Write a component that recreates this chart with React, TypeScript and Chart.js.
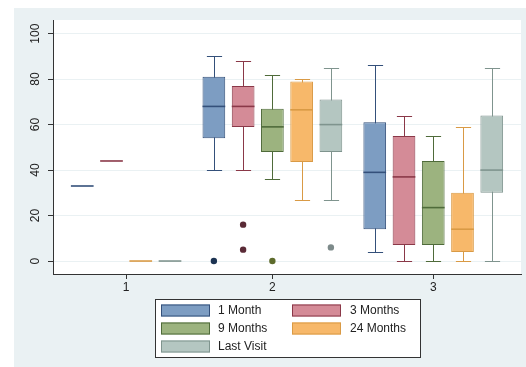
import { useEffect, useRef } from "react";
import { Chart, registerables } from "chart.js";
Chart.register(...registerables);

const groupLabels = ["1", "2", "3"];
const seriesNames = ["1 Month", "3 Months", "9 Months", "24 Months", "Last Visit"];
const yTickValues = [0, 20, 40, 60, 80, 100];

// [min, q1, median, q3, max] for groups 1, 2, 3 (null = no box)
const oneMonth = [[33, 33, 33, 33, 33], [40, 54, 68, 81, 90], [4, 14, 39, 61, 86]];
const threeMonths = [[44, 44, 44, 44, 44], [40, 59, 68, 77, 88], [0, 7, 37, 55, 64]];
const nineMonths = [null, [36, 48, 59, 67, 82], [0, 7, 23.5, 44, 55]];
const twentyFourMonths = [[0, 0, 0, 0, 0], [27, 43.5, 66.5, 79, 80], [0, 4, 14, 30, 59]];
const lastVisit = [[0, 0, 0, 0, 0], [27, 48, 60, 71, 85], [0, 30, 40, 64, 85]];

const oneMonthOutliers = [[], [0], []];
const threeMonthsOutliers = [[], [16, 5], []];
const nineMonthsOutliers = [[], [0], []];
const twentyFourMonthsOutliers = [[], [], []];
const lastVisitOutliers = [[], [6], []];

const stats: (number[] | null)[][] = [oneMonth, threeMonths, nineMonths, twentyFourMonths, lastVisit];
const outliers: number[][][] = [oneMonthOutliers, threeMonthsOutliers, nineMonthsOutliers, twentyFourMonthsOutliers, lastVisitOutliers];

const fills = ["#7d9dc2", "#d48b97", "#9cb37f", "#f7b86a", "#b4c6c1"];
const borders = ["#34507a", "#8a3848", "#4f6b3a", "#d99a45", "#7f948e"];
const dotColors = ["#1c3352", "#5a2a36", "#5d6b2c", "#c07020", "#7d8a8a"];

const GROUP_GAP = 0.5;
const FONT = "'Liberation Sans', Arial, sans-serif";

function layout() {
  const pos: (number | null)[][] = stats.map(() => groupLabels.map(() => null));
  const centers: number[] = [];
  let p = 0;
  let last = 0;
  groupLabels.forEach((_, g) => {
    const here: number[] = [];
    stats.forEach((st, s) => {
      if (st[g]) {
        pos[s][g] = p;
        here.push(p);
        last = p;
        p += 1;
      }
    });
    centers.push((here[0] + here[here.length - 1]) / 2);
    p += GROUP_GAP;
  });
  return { pos, centers, last };
}

export default function App() {
  const ref = useRef<HTMLCanvasElement>(null);
  useEffect(() => {
    document.body.style.margin = "0";
    const { pos, centers, last } = layout();

    const barMap: { s: number; g: number }[][] = [];
    const barDatasets: any[] = stats.map((st, s) => {
      const map: { s: number; g: number }[] = [];
      const data: any[] = [];
      st.forEach((v, g) => {
        if (v) {
          data.push({ x: pos[s][g], y: [v[1], v[3]] });
          map.push({ s, g });
        }
      });
      barMap.push(map);
      return {
        type: "bar",
        label: seriesNames[s],
        data,
        backgroundColor: fills[s],
        borderColor: borders[s],
        borderWidth: 1,
        borderSkipped: false,
        grouped: false,
        categoryPercentage: 1,
        barPercentage: 0.776,
      };
    });
    const dotDatasets: any[] = outliers.map((o, s) => ({
      type: "scatter",
      label: seriesNames[s] + " outliers",
      data: o.flatMap((vals, g) => vals.map((v) => ({ x: pos[s][g], y: v }))),
      backgroundColor: dotColors[s],
      borderWidth: 0,
      pointRadius: 3.2,
    }));

    const bgPlugin = {
      id: "bg",
      beforeDraw(chart: any) {
        const { ctx, chartArea: a } = chart;
        ctx.save();
        ctx.fillStyle = "#ffffff";
        ctx.fillRect(0, 0, chart.width, chart.height);
        ctx.fillStyle = "#eaf1f3";
        ctx.fillRect(14, 8, chart.width - 14, chart.height - 8);
        ctx.fillStyle = "#ffffff";
        ctx.fillRect(a.left, a.top, a.right - a.left, a.bottom - a.top);
        ctx.restore();
      },
    };

    const whiskerPlugin = {
      id: "whiskers",
      beforeDatasetsDraw(chart: any) {
        const { ctx } = chart;
        const xs = chart.scales.x;
        const ys = chart.scales.y;
        ctx.save();
        ctx.lineWidth = 1;
        barMap.forEach((map, di) => {
          const meta = chart.getDatasetMeta(di);
          map.forEach(({ s, g }, j) => {
            const v = stats[s][g]!;
            if (v[0] === v[4]) return;
            const el = meta.data[j];
            const x = Math.round(xs.getPixelForValue(pos[s][g])) + 0.5;
            const capW = el.width * 0.67;
            const yMin = Math.round(ys.getPixelForValue(v[0])) + 0.5;
            const yMax = Math.round(ys.getPixelForValue(v[4])) + 0.5;
            ctx.strokeStyle = borders[s];
            ctx.beginPath();
            ctx.moveTo(x, yMax);
            ctx.lineTo(x, yMin);
            ctx.moveTo(x - capW / 2, yMax);
            ctx.lineTo(x + capW / 2, yMax);
            ctx.moveTo(x - capW / 2, yMin);
            ctx.lineTo(x + capW / 2, yMin);
            ctx.stroke();
          });
        });
        ctx.restore();
      },
      afterDatasetsDraw(chart: any) {
        const { ctx } = chart;
        const ys = chart.scales.y;
        ctx.save();
        ctx.lineWidth = 1.6;
        barMap.forEach((map, di) => {
          const meta = chart.getDatasetMeta(di);
          map.forEach(({ s, g }, j) => {
            const v = stats[s][g]!;
            const el = meta.data[j];
            const y = ys.getPixelForValue(v[2]);
            ctx.strokeStyle = borders[s];
            ctx.beginPath();
            ctx.moveTo(el.x - el.width / 2, y);
            ctx.lineTo(el.x + el.width / 2, y);
            ctx.stroke();
          });
        });
        ctx.restore();
      },
    };

    const labelPlugin = {
      id: "labels",
      afterDraw(chart: any) {
        const { ctx } = chart;
        const ys = chart.scales.y;
        ctx.save();
        ctx.fillStyle = "#222";
        ctx.font = `12px ${FONT}`;
        ctx.textAlign = "center";
        ctx.textBaseline = "middle";
        yTickValues.forEach((v) => {
          const y = ys.getPixelForValue(v);
          ctx.save();
          ctx.translate(36, y);
          ctx.rotate(-Math.PI / 2);
          ctx.fillText(String(v), 0, 0);
          ctx.restore();
        });
        // legend
        const lx = 155, ly = 299, lw = 265, lh = 58;
        ctx.fillStyle = "#ffffff";
        ctx.fillRect(lx, ly, lw, lh);
        ctx.strokeStyle = "#333";
        ctx.lineWidth = 1;
        ctx.strokeRect(lx + 0.5, ly + 0.5, lw, lh);
        ctx.textAlign = "left";
        seriesNames.forEach((name, s) => {
          const col = s % 2;
          const row = Math.floor(s / 2);
          const sx = col === 0 ? 161 : 292;
          const tx = col === 0 ? 218 : 350;
          const cy = 310.5 + row * 18;
          ctx.fillStyle = fills[s];
          ctx.fillRect(sx, cy - 6, 49, 12);
          ctx.strokeStyle = borders[s];
          ctx.strokeRect(sx + 0.5, cy - 5.5, 48, 11);
          ctx.fillStyle = "#222";
          ctx.fillText(name, tx, cy + 0.5);
        });
        ctx.restore();
      },
    };

    const chart = new Chart(ref.current!, {
      type: "bar",
      data: { datasets: [...barDatasets, ...dotDatasets] },
      options: {
        responsive: false,
        devicePixelRatio: 1,
        animation: false,
        layout: { padding: { left: 0, top: 20, right: 5, bottom: 0 } },
        plugins: { legend: { display: false }, tooltip: { enabled: false } },
        scales: {
          x: {
            type: "linear",
            min: -1,
            max: last + 1,
            offset: false,
            afterBuildTicks(scale: any) {
              scale.ticks = centers.map((c) => ({ value: c }));
            },
            afterFit(scale: any) {
              scale.height = 93;
            },
            grid: { drawOnChartArea: false, offset: false, tickColor: "#333", tickLength: 5 },
            border: { display: true, color: "#333", width: 1 },
            ticks: {
              padding: 1,
              color: "#222",
              font: { family: FONT, size: 12 },
              callback: (_v: any, i: number) => groupLabels[i],
              autoSkip: false,
              maxRotation: 0,
            },
          },
          y: {
            type: "linear",
            min: -5.7,
            max: 106,
            afterBuildTicks(scale: any) {
              scale.ticks = yTickValues.map((v) => ({ value: v }));
            },
            afterFit(scale: any) {
              scale.width = 53;
            },
            grid: { color: "#eaf1f3", offset: false, tickColor: "#333", tickLength: 5, lineWidth: 1 },
            border: { display: true, color: "#333", width: 1 },
            ticks: { display: false },
          },
        },
      },
      plugins: [bgPlugin, whiskerPlugin, labelPlugin],
    } as any);
    return () => chart.destroy();
  }, []);
  return (
    <div style={{ width: 526, height: 367 }}>
      <canvas ref={ref} width={526} height={367} style={{ display: "block" }} />
    </div>
  );
}
